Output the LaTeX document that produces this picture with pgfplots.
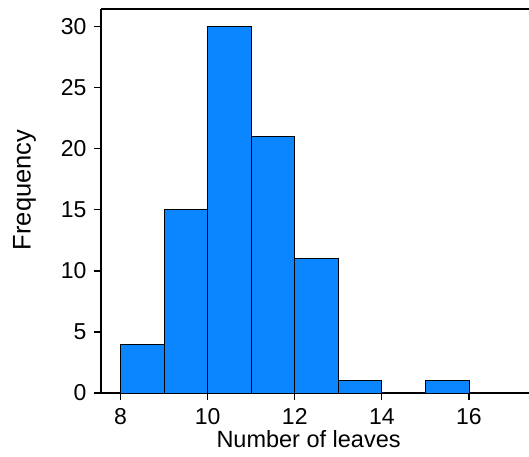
\documentclass[border=0pt]{standalone}
\usepackage{pgfplots}
\pgfplotsset{compat=1.18}
\usepackage{fontspec}
\setmainfont{Liberation Sans}
\definecolor{barblue}{RGB}{12,134,255}
\begin{document}
\begin{tikzpicture}[x=1pt,y=1pt]
\useasboundingbox (-101,-63) rectangle (428,393);
\begin{axis}[
  at={(0,0)}, anchor=south west,
  scale only axis, width=428pt, height=384pt,
  xmin=7.55, xmax=17.38, ymin=0, ymax=31.45,
  axis x line*=box, axis y line*=left,
  xtick={8,10,12,14,16}, ytick={0,5,10,15,20,25,30},
  xtick pos=bottom, ytick pos=left,
  tick align=outside, major tick length=7pt,
  tick style={black, line width=1.2pt},
  x axis line style={line width=1.6pt},
  y axis line style={line width=1.2pt},
  /pgf/number format/assume math mode=true,
  ticklabel style={font=\fontsize{23}{27}\selectfont},
  xticklabel style={yshift=-5pt},
  yticklabel style={xshift=-4pt},
  xlabel={Number of leaves}, ylabel={Frequency},
  xlabel style={font=\fontsize{23.5}{27}\selectfont, at={(axis description cs:0.485,-0.12)}, anchor=center},
  ylabel style={font=\fontsize{25.5}{29}\selectfont, at={(axis description cs:-0.179,0.529)}, anchor=center},
]
\addplot[ybar interval, fill=barblue, draw=black, line width=0.8pt]
  coordinates {(8,4) (9,15) (10,30) (11,21) (12,11) (13,1) (14,0) (15,1) (16,0)};
\end{axis}
\end{tikzpicture}
\end{document}
